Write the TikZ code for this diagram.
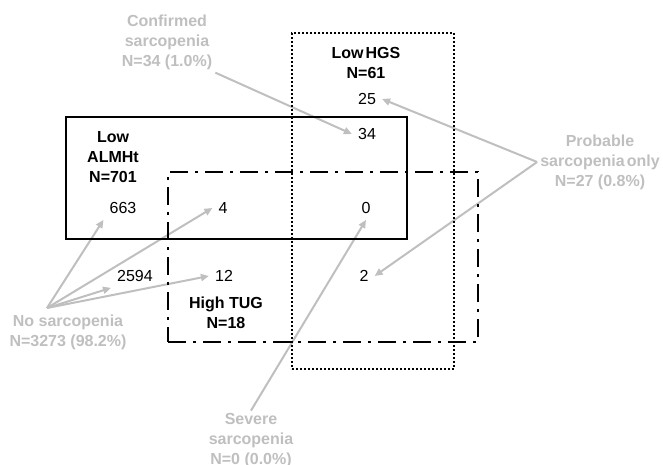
\documentclass[tikz,border=0pt]{standalone}
\usepackage{fontspec}
\setmainfont{Liberation Sans}
\usetikzlibrary{arrows.meta}
\definecolor{lgray}{RGB}{191,191,191}
\definecolor{ink}{RGB}{0,0,0}
\tikzset{
  setbox/.style={draw=ink, line width=2.5pt, inner sep=0pt},
  almbox/.style={setbox},
  tugbox/.style={setbox, dash pattern=on 18pt off 7pt on 3pt off 7pt},
  hgsbox/.style={setbox, line width=2pt, dash pattern=on 2pt off 2pt},
  grp/.style={font=\fontsize{16}{20}\selectfont\bfseries, text=ink, align=center, inner sep=3pt},
  glbl/.style={grp, text=lgray},
  num/.style={font=\fontsize{16}{20}\selectfont, text=ink, inner sep=6pt},
  garr/.style={-{Triangle[length=8pt,width=7pt]}, line width=2pt, draw=lgray},
}
\begin{document}
\begin{tikzpicture}[x=1pt, y=-1pt]
  \useasboundingbox (0,0) rectangle (663,465);

  % category labels
  \node[glbl] (conf) at (167,42) {Confirmed\\sarcopenia\\N=34 (1.0\%)};
  \node[glbl] (prob) at (600,162) {Probable\\sarcopenia\hspace{2pt}only\\N=27 (0.8\%)};
  \node[glbl] (nosar) at (68,332) {No sarcopenia\\N=3273 (98.2\%)};
  \node[glbl] (sev) at (251,441) {Severe\\sarcopenia\\N=0 (0.0\%)};
  \coordinate (nsx) at (47,308);

  % set labels
  \node[grp] (hgs) at (366,63) {Low\hspace{2pt}HGS\\N=61};
  \node[grp] (alm) at (113,157) {Low\\ALMHt\\N=701};
  \node[grp] (tug) at (226,313) {High TUG\\N=18};

  % counts
  \node[num] (n25) at (367,99) {25};
  \node[num] (n34) at (367,134) {34};
  \node[num] (n663) at (123,208) {663};
  \node[num] (n4) at (223,208) {4};
  \node[num] (n0) at (366,208) {0};
  \node[num] (n2594) at (135,276) {2594};
  \node[num] (n12) at (224,276) {12};
  \node[num] (n2) at (364,276) {2};

  \draw[garr] (conf.south east) -- (n34.west);
  \draw[garr] (prob.west) -- (n25.east);
  \draw[garr] (prob.west) -- (n2.east);
  \draw[garr] (sev.north) -- (n0.south);
  \draw[garr] (nsx) -- (n663.south west);
  \draw[garr] (nsx) -- (n4.west);
  \draw[garr] (nsx) -- (n2594.south west);
  \draw[garr] (nsx) -- (n12.west);

  % sets
  \node[almbox, minimum width=341pt, minimum height=122pt] (almset) at (236.5,178) {};
  \node[tugbox, minimum width=310pt, minimum height=170pt] (tugset) at (323,257) {};
  \node[hgsbox, minimum width=162pt, minimum height=336pt] (hgsset) at (373,201) {};
\end{tikzpicture}
\end{document}
